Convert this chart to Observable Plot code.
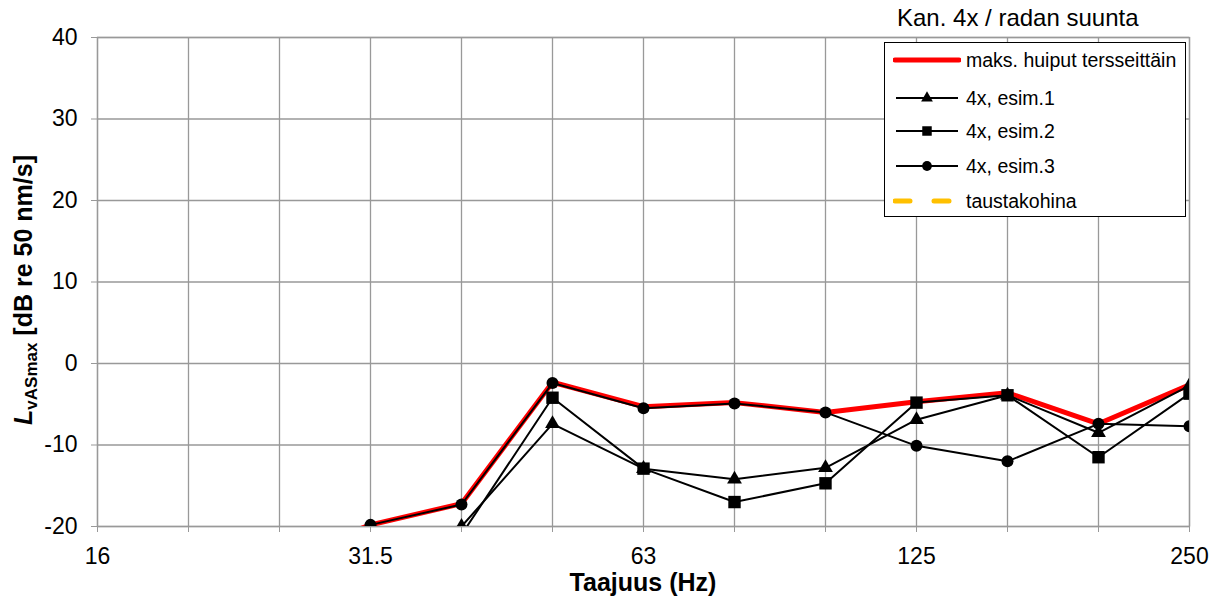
<!DOCTYPE html>
<html>
<head>
<meta charset="utf-8">
<script src="https://cdn.jsdelivr.net/npm/d3@7"></script>
<script src="https://cdn.jsdelivr.net/npm/@observablehq/plot@0.6"></script>
<style>
  html, body { margin: 0; padding: 0; background: #fff; }
  #wrap { position: relative; width: 1221px; height: 603px; font-family: "Liberation Sans", Arial, sans-serif; }
  #title { position: absolute; left: 897px; top: 4px; font-size: 24px; line-height: 28px; color: #000; white-space: nowrap; }
  #legend { position: absolute; left: 884px; top: 42px; width: 300px; height: 173px; border: 1.5px solid #000; background: #fff; }
  .item { position: absolute; left: 8px; height: 30px; display: flex; align-items: center; font-size: 19.5px; white-space: nowrap; }
  .item svg { margin-right: 5px; }
</style>
</head>
<body>
<div id="wrap">
  <div id="chart"></div>
  <div id="title">Kan. 4x / radan suunta</div>
  <div id="legend"></div>
</div>
<script>
// Third-octave band centre frequencies (Hz)
const freqs = ["16","20","25","31.5","40","50","63","80","100","125","160","200","250"];
const xTickLabels = ["16","31.5","63","125","250"];
const yTicks = [-20,-10,0,10,20,30,40];

// Series values (dB re 50 nm/s); null = no value
const maks  = [null, null, -24.0, -19.8, -17.2, -2.3, -5.3, -4.8, -6.0, -4.7, -3.6, -7.4, -2.6];
const esim1 = [null, null, null, -21.0, -20.0, -7.4, -12.9, -14.2, -12.8, -6.9, -3.9, -8.5, -2.7];
const esim2 = [null, null, null, -22.0, -21.0, -4.2, -12.9, -17.0, -14.7, -4.8, -3.9, -11.5, -3.7];
const esim3 = [null, null, -24.0, -19.8, -17.3, -2.4, -5.5, -4.9, -6.0, -10.1, -12.0, -7.4, -7.7];

const seriesNames = ["maks. huiput tersseittäin", "4x, esim.1", "4x, esim.2", "4x, esim.3", "taustakohina"];

const rows = arr => freqs.map((f, i) => ({f, v: arr[i]}));
const d0 = rows(maks), d1 = rows(esim1), d2 = rows(esim2), d3r = rows(esim3);

const plot = Plot.plot({
  width: 1221,
  height: 603,
  marginLeft: 97,
  marginRight: 32,
  marginTop: 37,
  marginBottom: 77,
  style: {fontFamily: "Liberation Sans, Arial, sans-serif", fontSize: "23px", color: "#000", background: "#fff"},
  x: {type: "point", domain: freqs, padding: 0},
  y: {domain: [-20, 40]},
  marks: [
    Plot.gridX(freqs, {stroke: "#999", strokeOpacity: 1, strokeWidth: 1.3}),
    Plot.gridY(yTicks, {stroke: "#999", strokeOpacity: 1, strokeWidth: 1.3}),
    Plot.frame({stroke: "#999", strokeWidth: 1.3}),
    Plot.axisX({ticks: freqs, tickFormat: d => xTickLabels.includes(d) ? d : "", tickSize: 6, tickPadding: 15, label: null, stroke: "#999", fontSize: 23, color: "#000"}),
    Plot.axisY({ticks: yTicks, tickFormat: d => String(d), tickSize: 6, tickPadding: 14, label: null, stroke: "#999", fontSize: 23}),
    Plot.line(d0, {x: "f", y: "v", stroke: "#ff0000", strokeWidth: 5, clip: true}),
    Plot.line(d1, {x: "f", y: "v", stroke: "#000", strokeWidth: 2, clip: true}),
    Plot.line(d2, {x: "f", y: "v", stroke: "#000", strokeWidth: 2, clip: true}),
    Plot.line(d3r, {x: "f", y: "v", stroke: "#000", strokeWidth: 2, clip: true}),
    Plot.dot(d1, {x: "f", y: "v", symbol: "triangle", r: 5.5, fill: "#000", stroke: "none", clip: true}),
    Plot.dot(d2, {x: "f", y: "v", symbol: "square", r: 7, fill: "#000", stroke: "none", clip: true}),
    Plot.dot(d3r, {x: "f", y: "v", symbol: "circle", r: 6, fill: "#000", stroke: "none", clip: true})
  ]
});

document.getElementById("chart").appendChild(plot);

const svg = d3.select(plot);
// x axis title
svg.append("text")
  .attr("x", 643).attr("y", 591)
  .attr("text-anchor", "middle")
  .attr("font-weight", "bold").attr("font-size", 25)
  .attr("fill", "#000")
  .text("Taajuus (Hz)");
// y axis title
const yt = svg.append("text")
  .attr("transform", "translate(32,290) rotate(-90)")
  .attr("text-anchor", "middle")
  .attr("font-weight", "bold").attr("font-size", 25)
  .attr("fill", "#000");
yt.append("tspan").attr("font-style", "italic").text("L");
yt.append("tspan").attr("font-size", 17).attr("dy", 5).text("vASmax");
yt.append("tspan").attr("dy", -5).text(" [dB re 50 nm/s]");

// legend
const legend = d3.select("#legend");
const tops = [2, 40, 73, 108, 143];
seriesNames.forEach((name, i) => {
  const item = legend.append("div").attr("class", "item").style("top", tops[i] + "px");
  const s = item.append("svg").attr("width", 68).attr("height", 20);
  if (i === 0) {
    s.append("line").attr("x1", 2).attr("x2", 66).attr("y1", 10).attr("y2", 10)
      .attr("stroke", "#ff0000").attr("stroke-width", 5).attr("stroke-linecap", "round");
  } else if (i === 4) {
    s.append("line").attr("x1", 2).attr("x2", 66).attr("y1", 10).attr("y2", 10)
      .attr("stroke", "#ffc000").attr("stroke-width", 5).attr("stroke-linecap", "round")
      .attr("stroke-dasharray", "15 24");
  } else {
    s.append("line").attr("x1", 3).attr("x2", 65).attr("y1", 10).attr("y2", 10)
      .attr("stroke", "#000").attr("stroke-width", 2);
    const sym = i === 1 ? d3.symbolTriangle : i === 2 ? d3.symbolSquare : d3.symbolCircle;
    const size = i === 1 ? 60 : i === 2 ? 90 : 75;
    s.append("path").attr("d", d3.symbol(sym, size)()).attr("transform", "translate(34,10)").attr("fill", "#000");
  }
  item.append("span").text(name);
});
</script>
</body>
</html>
